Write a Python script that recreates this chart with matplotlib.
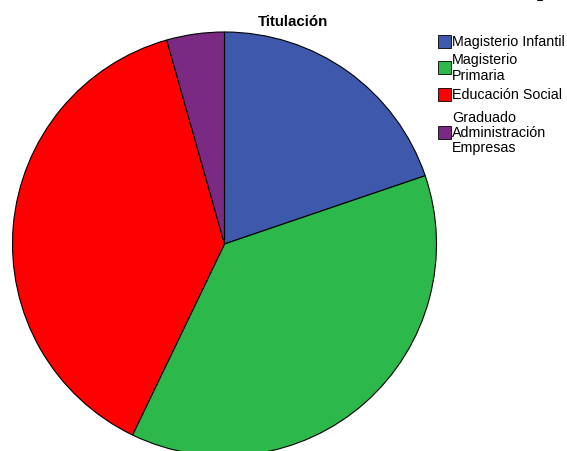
import matplotlib.pyplot as plt
from matplotlib.patches import Rectangle

plt.rcParams['font.family'] = ['Liberation Sans', 'DejaVu Sans']

# Students per degree
titulaciones = ['Magisterio Infantil', 'Magisterio\nPrimaria', 'Educación Social',
                'Graduado\nAdministración\nEmpresas']
alumnos = [18, 34, 35, 4]
colores = ['#3E58AC', '#2DB84B', '#FF0000', '#7A2A83']

W, H = 567, 452
fig = plt.figure(figsize=(W / 100, H / 100), dpi=100)
ax = fig.add_axes([0, 0, 1, 1])

# pie drawn in pixel-like coordinates (y up)
ax.pie(alumnos, colors=colores, startangle=90, counterclock=False,
       center=(224.5, H - 245), radius=212,
       wedgeprops=dict(edgecolor='black', linewidth=0.8))
ax.set_xlim(0, W)
ax.set_ylim(0, H)
ax.set_aspect('equal')
ax.axis('off')

ax.text(292.5, H - 22, 'Titulación', ha='center', va='center',
        fontsize=10.8, fontweight='bold')

# legend
filas_y = [42, 68, 95, 133]
for lab, col, yc in zip(titulaciones, colores, filas_y):
    ax.add_patch(Rectangle((438, H - yc - 6.5), 13, 13, facecolor=col,
                           edgecolor='black', linewidth=0.6))
    ax.text(452, H - yc, lab, ha='left', va='center', fontsize=10.3,
            linespacing=1.1)

# cropped heading fragment at the top edge
fig.text(537 / W, 1.0 + 4 / H, 'p', fontsize=16, fontweight='bold',
         family='Liberation Serif', ha='left', va='baseline')

fig.savefig('out.png', dpi=100)
